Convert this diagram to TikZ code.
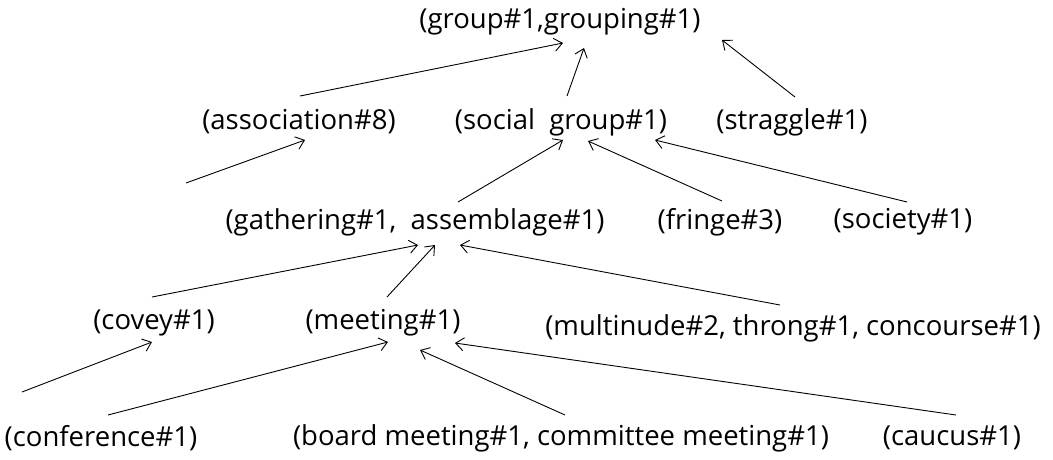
\documentclass[tikz,border=0pt]{standalone}
\usepackage{fontspec}
\setmainfont{Open Sans}
\usetikzlibrary{arrows.meta,calc}
\begin{document}
\begin{tikzpicture}[x=1pt,y=-1pt,
  term/.style={inner sep=0pt, anchor=center, font=\fontsize{27.5}{32}\selectfont},
  link/.style={line width=0.9pt, -{Straight Barb[length=8pt,width=13pt,line width=0.9pt]}}]
\useasboundingbox (0,0) rectangle (1053,459);
% synset labels, one row per level
\node[term] (group)    at (560,22)  {(group\#1,grouping\#1)};
\node[term] (assoc)    at (299,122) {(association\#8)};
\node[term] (social)   at (561,122) {(social\ \ group\#1)};
\node[term] (straggle) at (792,122) {(straggle\#1)};
\node[term] (gather)   at (415,222) {(gathering\#1,\ \ assemblage\#1)};
\node[term] (fringe)   at (720,222) {(fringe\#3)};
\node[term] (society)  at (903,222) {(society\#1)};
\node[term] (covey)    at (154,323) {(covey\#1)};
\node[term] (meeting)  at (383,323) {(meeting\#1)};
\node[term] (multi)    at (793,328) {(multinude\#2,\ throng\#1,\ concourse\#1)};
\node[term] (conf)     at (101,438) {(conference\#1)};
\node[term] (board)    at (561,438) {(board meeting\#1,\ committee meeting\#1)};
\node[term] (caucus)   at (952,438) {(caucus\#1)};
% loose tails of the two unlabelled hypernym links
\coordinate (tailA) at (186,183);
\coordinate (tailB) at (22,392);
% hypernym links
\draw[link] ($(assoc)+(1,-26)$)     -- ($(group)+(3,21)$);
\draw[link] ($(social)+(6,-26)$)    -- ($(group)+(24,26)$);
\draw[link] ($(straggle)+(3,-25)$)  -- ($(group)+(162,18)$);
\draw[link] (tailA)                 -- ($(assoc)+(6,18)$);
\draw[link] ($(gather)+(43,-20)$)   -- ($(social)+(2,18)$);
\draw[link] ($(fringe)+(2,-21)$)    -- ($(social)+(27,19)$);
\draw[link] ($(society)+(4,-20)$)   -- ($(social)+(94,18)$);
\draw[link] ($(covey)+(-2,-26)$)    -- ($(gather)+(3,23)$);
\draw[link] ($(meeting)+(4,-26)$)   -- ($(gather)+(20,23)$);
\draw[link] ($(multi)+(-13,-23)$)   -- ($(gather)+(45,23)$);
\draw[link] (tailB)                 -- ($(covey)+(-2,19)$);
\draw[link] ($(conf)+(7,-23)$)      -- ($(meeting)+(5,19)$);
\draw[link] ($(board)+(4,-23)$)     -- ($(meeting)+(37,27)$);
\draw[link] ($(caucus)+(4,-23)$)    -- ($(meeting)+(72,20)$);
\end{tikzpicture}
\end{document}
